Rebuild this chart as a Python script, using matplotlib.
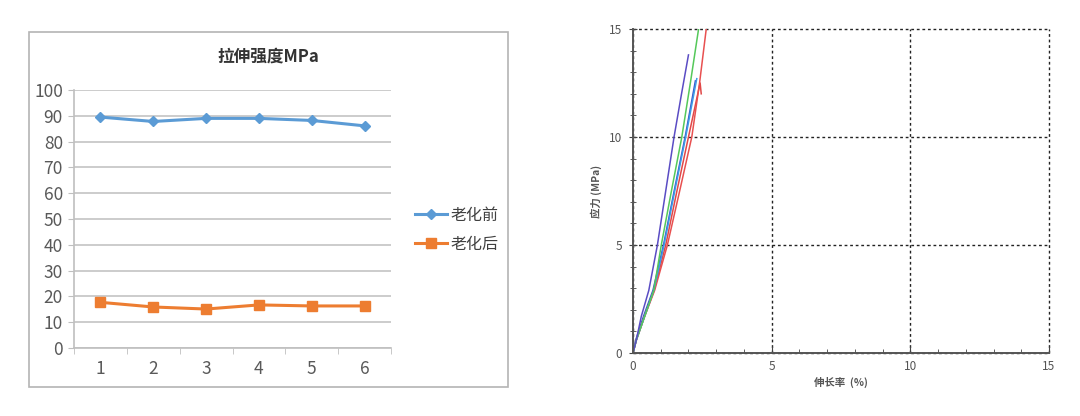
import matplotlib
matplotlib.use("Agg")
import matplotlib.pyplot as plt
from matplotlib.patches import Rectangle
from matplotlib.ticker import MultipleLocator

plt.rcParams['font.family'] = ['Noto Sans CJK SC', 'DejaVu Sans']

# left chart: tensile strength before / after ageing
samples = [1, 2, 3, 4, 5, 6]
before_aging = [89.5, 87.8, 89.0, 89.0, 88.2, 86.1]
after_aging = [17.7, 15.9, 15.1, 16.7, 16.3, 16.3]
series_names = ['老化前', '老化后']

# right chart: stress-strain curves (strain %, stress MPa)
purple_strain = [0, 0.12, 0.30, 0.57, 0.88, 1.18, 1.48, 1.75, 2.00]
purple_stress = [0, 0.6, 1.7, 2.9, 5.0, 7.5, 10.0, 12.0, 13.8]
green_strain = [0, 0.12, 0.42, 0.75, 1.02, 1.40, 1.76, 2.08, 2.40]
green_stress = [0, 0.6, 1.7, 2.9, 5.0, 7.6, 10.0, 12.6, 15.3]
blue_strain = [0, 0.12, 0.42, 0.75, 1.12, 1.52, 1.90, 2.30]
blue_stress = [0, 0.6, 1.7, 2.9, 5.0, 7.6, 10.0, 12.7]
navy_strain = [0, 0.10, 0.38, 0.72, 1.10, 1.50, 1.88, 2.25]
navy_stress = [0, 0.6, 1.7, 2.9, 5.0, 7.6, 10.0, 12.6]
red_strain = [0, 0.12, 0.42, 0.78, 1.24, 1.70, 2.12, 2.40, 2.66]
red_stress = [0, 0.6, 1.7, 2.9, 5.0, 7.6, 10.0, 12.5, 15.2]
red2_strain = [0, 0.12, 0.42, 0.76, 1.18, 1.60, 2.00, 2.42, 2.46]
red2_stress = [0, 0.6, 1.7, 2.9, 5.0, 7.6, 10.0, 12.5, 12.0]

W, H = 1080, 416
fig = plt.figure(figsize=(W / 100, H / 100), dpi=100)

def fig_rect(x0, y0, x1, y1):
    return [x0 / W, 1 - y1 / H, (x1 - x0) / W, (y1 - y0) / H]

# ---- left panel ----
fig.patches.append(Rectangle((29 / W, 1 - 387 / H), 479 / W, 355 / H,
                             transform=fig.transFigure, fill=False,
                             edgecolor='#b4b4b4', linewidth=1.2))
ax = fig.add_axes(fig_rect(74, 90, 391, 348))
ax.plot(samples, before_aging, color='#5b9bd5', lw=2.2, marker='D', ms=5,
        label=series_names[0])
ax.plot(samples, after_aging, color='#ed7d31', lw=2.2, marker='s', ms=6.5,
        label=series_names[1])
ax.set_xlim(0.5, 6.5)
ax.set_ylim(0, 100)
ax.set_yticks(range(0, 101, 10))
ax.set_xticks(samples)
ax.xaxis.set_minor_locator(MultipleLocator(1, offset=0.5))
ax.tick_params(axis='x', which='major', length=0, pad=9, labelsize=12.5,
               labelcolor='#595959')
ax.tick_params(axis='x', which='minor', length=4, color='#bfbfbf')
ax.tick_params(axis='y', length=4, color='#bfbfbf', labelsize=12.5,
               labelcolor='#595959', pad=4)
ax.grid(axis='y', color='#c4c4c4', lw=1.2)
ax.set_axisbelow(True)
for s in ['top', 'right']:
    ax.spines[s].set_visible(False)
for s in ['left', 'bottom']:
    ax.spines[s].set_color('#bfbfbf')
    ax.spines[s].set_linewidth(1.2)
fig.text(268 / W, 1 - 57 / H, '拉伸强度MPa', ha='center', va='center',
         fontsize=12, fontweight='bold', color='#333333')
fig.legend(loc='center left', bbox_to_anchor=(401 / W, 1 - 230 / H),
           frameon=False, fontsize=11.5, handlelength=2.0,
           handletextpad=0.2, labelspacing=0.75, labelcolor='#404040')

# ---- right panel ----
ax2 = fig.add_axes(fig_rect(633, 29, 1049, 353))
curves = [
    (navy_strain, navy_stress, '#3a55c8'),
    (red2_strain, red2_stress, '#e04848'),
    (red_strain, red_stress, '#e85050'),
    (blue_strain, blue_stress, '#3d9be6'),
    (green_strain, green_stress, '#55c85a'),
    (purple_strain, purple_stress, '#5a4cc4'),
]
for xs, ys, c in curves:
    ax2.plot(xs, ys, color=c, lw=1.1)
ax2.set_xlim(0, 15)
ax2.set_ylim(0, 15)
ax2.set_xticks([0, 5, 10, 15])
ax2.set_yticks([0, 5, 10, 15])
ax2.xaxis.set_minor_locator(MultipleLocator(1))
ax2.yaxis.set_minor_locator(MultipleLocator(1))
ax2.grid(which='major', color='#222222', lw=1.0, linestyle=(0, (2, 2)))
for gl in ax2.get_xgridlines() + ax2.get_ygridlines():
    gl.set_clip_on(False)
ax2.tick_params(axis='x', which='major', direction='in', length=5,
                color='#444444', labelsize=8.5, labelcolor='#555555', pad=5)
ax2.tick_params(axis='x', which='minor', direction='in', length=3,
                color='#444444')
ax2.tick_params(axis='y', which='major', direction='inout', length=6,
                color='#444444', labelsize=8.5, labelcolor='#555555', pad=5)
ax2.tick_params(axis='y', which='minor', direction='inout', length=4,
                color='#444444')
for s in ['top', 'right']:
    ax2.spines[s].set_visible(False)
for s in ['left', 'bottom']:
    ax2.spines[s].set_color('#555555')
    ax2.spines[s].set_linewidth(1.4)
ax2.set_xlabel('伸长率  (%)', fontsize=7.5, fontweight='bold',
               color='#555555', labelpad=3)
ax2.set_ylabel('应力 (MPa)', fontsize=7.5, fontweight='bold',
               color='#555555', labelpad=5)

fig.savefig('out.png', dpi=100, facecolor='white')
